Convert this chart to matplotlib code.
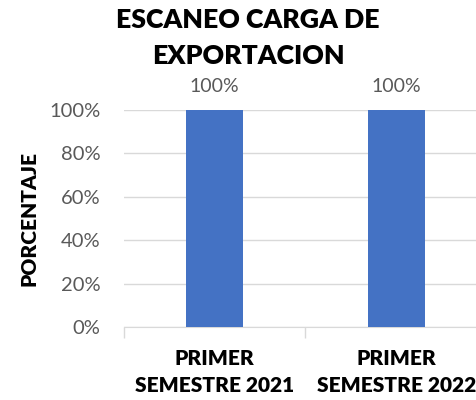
import matplotlib.pyplot as plt
from matplotlib.ticker import FixedLocator

# datos
categorias = ["PRIMER\nSEMESTRE 2021", "PRIMER\nSEMESTRE 2022"]
porcentajes = [1.0, 1.0]
etiquetas_y = [0, 0.2, 0.4, 0.6, 0.8, 1.0]

plt.rcParams['font.family'] = ['Lato', 'DejaVu Sans']

fig = plt.figure(figsize=(4.76, 4.0), dpi=100)
ax = fig.add_axes([0.2605, 0.1825, 0.7626, 0.5425])

x = range(len(categorias))
barras = ax.bar(x, porcentajes, width=0.315, color="#4472C4", zorder=3)

# etiquetas de datos
for xi, v in zip(x, porcentajes):
    ax.text(xi, v + 0.07, f"{v:.0%}", ha="center", va="bottom",
            fontsize=14, color="#595959")

ax.set_xlim(-0.5, 1.5)
ax.set_ylim(0, 1.0)
ax.set_yticks(etiquetas_y)
ax.set_yticklabels([f"{v:.0%}" for v in etiquetas_y], fontsize=14.5, color="#595959")
ax.tick_params(axis="y", length=0, pad=17)

ax.set_xticks(list(x))
ax.set_xticklabels(categorias, fontsize=15, fontweight="heavy", linespacing=1.5)
ax.tick_params(axis="x", which="major", length=0, pad=16)
ax.xaxis.set_minor_locator(FixedLocator([-0.5, 0.5, 1.5]))
ax.tick_params(axis="x", which="minor", length=8, color="#D9D9D9", width=1)

ax.grid(axis="y", color="#D9D9D9", linewidth=1, zorder=0)
for s in ["top", "right", "left"]:
    ax.spines[s].set_visible(False)
ax.spines["bottom"].set_color("#D9D9D9")

ax.set_ylabel("PORCENTAJE", fontsize=15, fontweight="heavy")
ax.yaxis.set_label_coords(-0.235, 0.5)

fig.text(0.521, 0.98, "ESCANEO CARGA DE\nEXPORTACION", ha="center", va="top",
         fontsize=19.2, fontweight="heavy", linespacing=1.62)

fig.savefig("out.png", dpi=100)
